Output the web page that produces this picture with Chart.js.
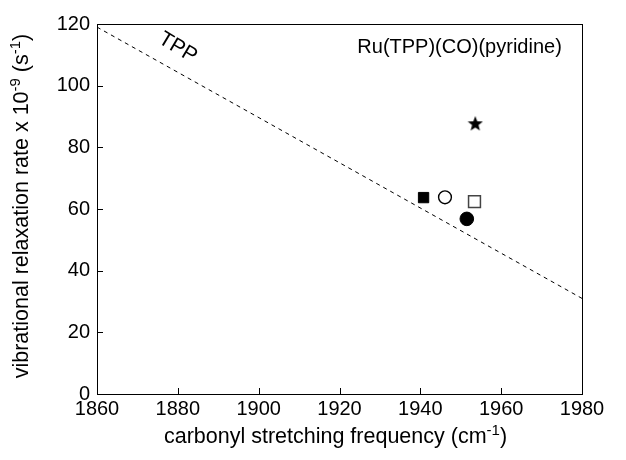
<!DOCTYPE html>
<html>
<head>
<meta charset="utf-8">
<script src="https://cdn.jsdelivr.net/npm/chart.js@4/dist/chart.umd.min.js"></script>
<style>
  html, body { margin: 0; padding: 0; background: #fff; }
  #wrap { width: 626px; height: 460px; }
</style>
</head>
<body>
<div id="wrap"><canvas id="chart"></canvas></div>
<script>
// --- Data ---
const xTicks = [1860, 1880, 1900, 1920, 1940, 1960, 1980];
const yTicks = [0, 20, 40, 60, 80, 100, 120];

// dashed TPP trend line (end points)
const tppLineX = [1860, 1980];
const tppLineY = [119, 31];

// individual complexes
const filledSquareX = [1940.8];
const filledSquareY = [63.7];
const openCircleX = [1946.1];
const openCircleY = [63.8];
const openSquareX = [1953.4];
const openSquareY = [62.4];
const filledCircleX = [1951.5];
const filledCircleY = [56.8];
const starX = [1953.6];
const starY = [87.8];

// axis titles, split into [text, isSuperscript] pieces
const xTitleParts = [['carbonyl stretching frequency (cm', false], ['-1', true], [')', false]];
const yTitleParts = [['vibrational relaxation rate x 10', false], ['-9', true], [' (s', false], ['-1', true], [')', false]];

const FONT = '"Liberation Sans", Arial, sans-serif';

function toPoints(xs, ys) {
    return xs.map((x, i) => ({ x: x, y: ys[i] }));
}

// filled 5-point star used as a point image
function makeStar(size) {
    const c = document.createElement('canvas');
    c.width = size;
    c.height = size;
    const ctx = c.getContext('2d');
    const cx = size / 2, cy = size / 2 + 0.8;
    const outer = size / 2, inner = outer * 0.42;
    ctx.beginPath();
    for (let i = 0; i < 10; i++) {
        const r = i % 2 === 0 ? outer : inner;
        const a = -Math.PI / 2 + i * Math.PI / 5;
        ctx.lineTo(cx + r * Math.cos(a), cy + r * Math.sin(a));
    }
    ctx.closePath();
    ctx.fillStyle = '#000';
    ctx.fill();
    return c;
}

// text with superscripts, centred on (0,0) of the current transform, baseline at y=0
function drawRich(ctx, parts) {
    const mainFont = '21.5px ' + FONT;
    const supFont = '15px ' + FONT;
    let total = 0;
    parts.forEach(([t, sup]) => {
        ctx.font = sup ? supFont : mainFont;
        total += ctx.measureText(t).width;
    });
    let x = -total / 2;
    ctx.textAlign = 'left';
    ctx.textBaseline = 'alphabetic';
    parts.forEach(([t, sup]) => {
        ctx.font = sup ? supFont : mainFont;
        ctx.fillText(t, x, sup ? -8 : 0);
        x += ctx.measureText(t).width;
    });
}

// box around plot, inward ticks, titles and the two text labels
const framePlugin = {
    id: 'frame',
    afterDatasetsDraw(chart) {
        const { ctx, chartArea: a, scales } = chart;
        ctx.save();
        ctx.strokeStyle = '#000';
        ctx.lineWidth = 1;
        ctx.strokeRect(a.left + 0.5, a.top + 0.5, a.right - a.left, a.bottom - a.top);
        ctx.beginPath();
        xTicks.forEach(v => {
            const px = Math.round(scales.x.getPixelForValue(v)) + 0.5;
            ctx.moveTo(px, a.bottom);
            ctx.lineTo(px, a.bottom - 6);
        });
        yTicks.forEach(v => {
            const py = Math.round(scales.y.getPixelForValue(v)) + 0.5;
            ctx.moveTo(a.left, py);
            ctx.lineTo(a.left + 6, py);
        });
        ctx.stroke();

        ctx.fillStyle = '#000';

        // x axis title
        ctx.save();
        ctx.translate((a.left + a.right) / 2 - 4, 443);
        drawRich(ctx, xTitleParts);
        ctx.restore();

        // y axis title
        ctx.save();
        ctx.translate(28, (a.top + a.bottom) / 2 - 3);
        ctx.rotate(-Math.PI / 2);
        drawRich(ctx, yTitleParts);
        ctx.restore();

        ctx.font = '20px ' + FONT;
        ctx.textAlign = 'right';
        ctx.textBaseline = 'middle';
        ctx.fillText('Ru(TPP)(CO)(pyridine)', scales.x.getPixelForValue(1975), scales.y.getPixelForValue(112.5));

        ctx.translate(scales.x.getPixelForValue(1880), scales.y.getPixelForValue(112.3));
        ctx.rotate(31 * Math.PI / 180);
        ctx.textAlign = 'center';
        ctx.font = '21px ' + FONT;
        ctx.fillText('TPP', 0, 0);
        ctx.restore();
    }
};

new Chart(document.getElementById('chart'), {
    type: 'scatter',
    data: {
        datasets: [
            {
                type: 'line',
                data: toPoints(tppLineX, tppLineY),
                borderColor: '#000',
                borderWidth: 1,
                borderDash: [4, 4],
                pointRadius: 0,
                fill: false
            },
            {
                data: toPoints(filledSquareX, filledSquareY),
                pointStyle: 'rect',
                pointRadius: 7.3,
                backgroundColor: '#000',
                borderColor: '#000',
                borderWidth: 1
            },
            {
                data: toPoints(openCircleX, openCircleY),
                pointStyle: 'circle',
                pointRadius: 6.4,
                backgroundColor: '#fff',
                borderColor: '#000',
                borderWidth: 1.4
            },
            {
                data: toPoints(openSquareX, openSquareY),
                pointStyle: 'rect',
                pointRadius: 8.4,
                backgroundColor: '#fff',
                borderColor: '#444',
                borderWidth: 1.5
            },
            {
                data: toPoints(filledCircleX, filledCircleY),
                pointStyle: 'circle',
                pointRadius: 6.8,
                backgroundColor: '#000',
                borderColor: '#000',
                borderWidth: 1
            },
            {
                data: toPoints(starX, starY),
                pointStyle: makeStar(16),
                pointRadius: 8,
                backgroundColor: '#000'
            }
        ]
    },
    plugins: [framePlugin],
    options: {
        responsive: true,
        maintainAspectRatio: false,
        animation: false,
        layout: { padding: { left: 0, right: 44, top: 24, bottom: 0 } },
        plugins: {
            legend: { display: false },
            tooltip: { enabled: false }
        },
        scales: {
            x: {
                type: 'linear',
                min: 1860,
                max: 1980,
                afterBuildTicks: (scale) => { scale.ticks = xTicks.map(v => ({ value: v })); },
                afterFit: (scale) => { scale.height = 66; },
                grid: { display: false, drawTicks: false },
                border: { display: false },
                ticks: {
                    color: '#000',
                    padding: 3,
                    maxRotation: 0,
                    font: { family: FONT, size: 20 },
                    callback: (v) => String(v)
                }
            },
            y: {
                type: 'linear',
                min: 0,
                max: 120,
                afterBuildTicks: (scale) => { scale.ticks = yTicks.map(v => ({ value: v })); },
                afterFit: (scale) => { scale.width = 97; },
                grid: { display: false, drawTicks: false },
                border: { display: false },
                ticks: {
                    color: '#000',
                    padding: 7,
                    font: { family: FONT, size: 20 },
                    callback: (v) => String(v)
                }
            }
        }
    }
});
</script>
</body>
</html>
